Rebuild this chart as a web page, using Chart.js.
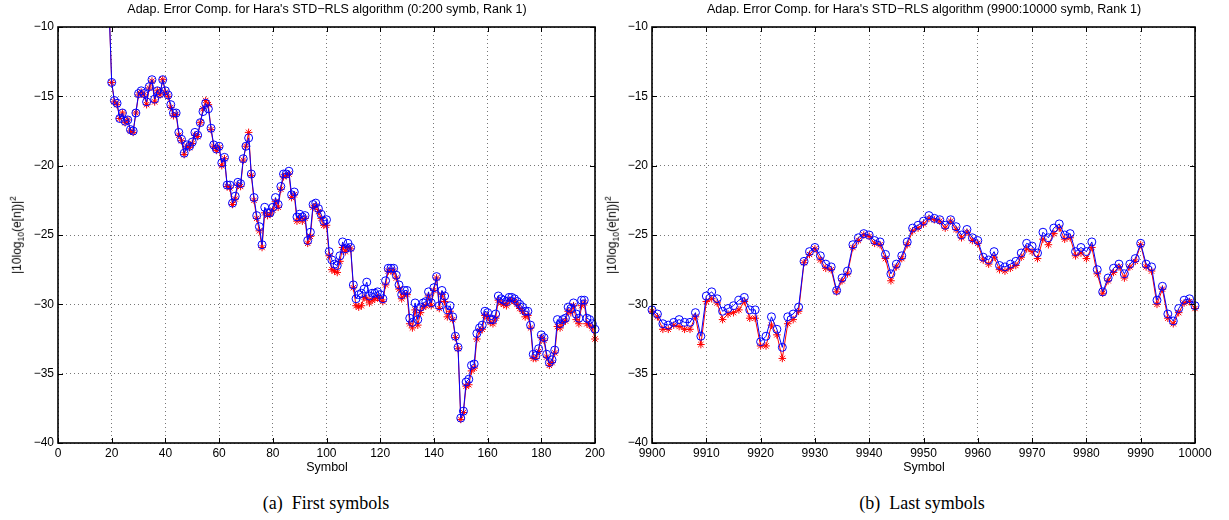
<!DOCTYPE html>
<html>
<head>
<meta charset="utf-8">
<script src="https://cdn.jsdelivr.net/npm/chart.js@4.4.0/dist/chart.umd.min.js"></script>
<style>
  body { margin: 0; background: #fff; width: 1229px; height: 520px; position: relative; overflow: hidden;
         font-family: "Liberation Sans", Arial, sans-serif; color: #000; }
  canvas { position: absolute; top: 0; }
  .ttl, .xl { position: absolute; font-size: 12.5px; white-space: nowrap; transform: translateX(-50%); }
  .yl { position: absolute; font-size: 12px; white-space: nowrap; transform: translate(-50%, -50%) rotate(-90deg); }
  .yl sub, .yl sup { font-size: 8.5px; }
  .cap { position: absolute; font-family: "Liberation Serif", "Times New Roman", serif; font-size: 18px;
         white-space: pre; transform: translateX(-50%); }
</style>
</head>
<body>
<canvas id="left" width="614" height="480" style="left:0"></canvas>
<canvas id="right" width="615" height="480" style="left:614px"></canvas>

<div class="ttl" style="left:327px; top:2px">Adap. Error Comp. for Hara's STD−RLS algorithm (0:200 symb, Rank 1)</div>
<div class="ttl" style="left:924px; top:2px">Adap. Error Comp. for Hara's STD−RLS algorithm (9900:10000 symb, Rank 1)</div>
<div class="yl" style="left:17px; top:235px">|10log<sub>10</sub>(e[n])|<sup>2</sup></div>
<div class="yl" style="left:612px; top:235px">|10log<sub>10</sub>(e[n])|<sup>2</sup></div>
<div class="xl" style="left:327px; top:460px">Symbol</div>
<div class="xl" style="left:924px; top:460px">Symbol</div>
<div class="cap" style="left:326px; top:493px">(a)  First symbols</div>
<div class="cap" style="left:922px; top:493px">(b)  Last symbols</div>

<script>
// first symbols (0:200), values start at symbol 19
const firstStart = 19;
const firstBlue = [
  -8.5,
  -14.0,-15.3,-15.5,-16.6,-16.2,-16.8,-16.7,-17.4,-17.5,-16.2,
  -14.8,-14.6,-14.8,-15.4,-14.3,-13.8,-15.2,-14.6,-14.8,-13.8,
  -14.6,-14.9,-15.6,-16.2,-16.2,-17.6,-18.1,-19.1,-18.5,-18.6,
  -18.3,-17.6,-17.8,-16.9,-16.1,-15.5,-15.9,-17.3,-18.5,-18.8,
  -18.6,-19.8,-19.4,-21.4,-21.4,-22.7,-22.2,-21.2,-21.3,-19.5,
  -18.6,-18.0,-20.6,-22.3,-23.6,-24.4,-25.7,-23.0,-23.4,-23.4,
  -23.0,-22.3,-22.8,-21.5,-20.6,-20.6,-20.4,-22.1,-21.9,-23.7,
  -23.5,-23.7,-23.6,-25.4,-24.8,-22.8,-22.7,-23.1,-23.5,-24.0,
  -23.9,-26.2,-26.8,-27.1,-27.2,-26.5,-25.5,-26.0,-25.6,-25.9,
  -28.6,-29.6,-29.3,-29.2,-28.9,-28.4,-29.4,-29.2,-29.2,-29.1,
  -29.3,-29.6,-28.3,-27.4,-27.4,-27.4,-27.9,-28.6,-29.3,-29.0,
  -29.0,-31.0,-31.3,-29.9,-31.1,-30.2,-29.9,-29.8,-29.1,-29.9,
  -28.8,-28.0,-30.1,-29.0,-29.4,-30.4,-30.1,-30.9,-32.3,-33.1,
  -38.2,-37.7,-35.6,-35.4,-34.4,-34.3,-32.1,-31.7,-31.5,-30.5,
  -30.6,-31.1,-31.1,-30.7,-29.4,-29.6,-29.7,-29.8,-29.5,-29.5,
  -29.6,-29.8,-30.0,-30.2,-30.5,-30.5,-31.5,-33.6,-33.7,-33.2,
  -32.2,-32.4,-33.6,-34.2,-34.0,-33.3,-31.1,-31.4,-31.1,-31.0,
  -30.2,-30.3,-29.9,-30.7,-31.0,-29.7,-29.7,-31.0,-31.1,-31.4,
  -31.8
];
const firstRed = [
  -8.5,
  -14.0,-15.4,-15.6,-16.6,-16.2,-16.9,-16.7,-17.5,-17.6,-16.2,
  -14.9,-14.7,-14.9,-15.6,-14.4,-13.9,-15.4,-14.6,-14.9,-13.8,
  -14.7,-15.0,-15.8,-16.4,-16.3,-17.8,-18.2,-19.2,-18.6,-18.7,
  -18.4,-17.8,-17.9,-16.9,-15.9,-15.3,-15.6,-17.4,-18.6,-18.9,
  -18.7,-20.0,-19.5,-21.5,-21.6,-22.8,-22.4,-21.4,-21.5,-19.6,
  -18.6,-17.6,-20.7,-22.5,-23.8,-24.7,-25.9,-23.4,-23.6,-23.5,
  -23.2,-22.6,-23.0,-21.7,-20.8,-20.7,-20.6,-22.3,-22.1,-24.0,
  -23.8,-24.0,-23.8,-25.6,-25.1,-23.0,-22.9,-23.3,-23.8,-24.3,
  -24.3,-26.5,-27.5,-27.6,-27.7,-26.9,-25.9,-26.2,-25.9,-26.0,
  -28.8,-30.1,-30.2,-30.1,-29.5,-29.6,-29.9,-29.7,-29.6,-29.5,
  -29.6,-29.8,-28.6,-27.6,-27.6,-27.6,-28.1,-28.9,-29.6,-29.3,
  -29.3,-31.4,-31.7,-30.4,-31.5,-30.6,-30.2,-30.1,-29.4,-30.1,
  -29.0,-28.1,-30.3,-29.3,-29.8,-30.9,-30.5,-31.1,-32.4,-33.2,
  -38.3,-37.8,-35.9,-35.8,-34.8,-34.6,-32.5,-31.9,-31.8,-30.8,
  -30.9,-31.3,-31.4,-31.0,-29.7,-29.9,-30.0,-30.1,-29.7,-29.7,
  -29.8,-30.0,-30.3,-30.5,-30.9,-30.8,-31.7,-33.9,-33.9,-33.4,
  -32.4,-32.6,-33.8,-34.4,-34.2,-33.5,-31.6,-31.7,-31.3,-31.2,
  -30.5,-30.6,-30.1,-31.1,-31.4,-30.1,-29.9,-31.4,-31.5,-31.7,
  -32.5
];

// last symbols (9900:10000)
const lastStart = 9900;
const lastBlue = [
  -30.4,-30.7,-31.4,-31.5,-31.3,-31.1,-31.3,-31.3,-30.6,-32.3,
  -29.4,-29.1,-29.6,-30.5,-30.3,-30.1,-29.7,-29.5,-30.4,-30.4,
  -32.7,-32.3,-30.9,-31.8,-33.1,-30.9,-30.7,-30.2,-26.9,-26.2,
  -25.9,-26.5,-27.1,-27.3,-29.0,-28.1,-27.6,-25.7,-25.2,-24.9,
  -25.0,-25.4,-25.5,-26.4,-27.8,-27.1,-26.5,-25.5,-24.5,-24.3,
  -24.0,-23.6,-23.8,-23.9,-24.3,-23.9,-24.4,-25.0,-24.6,-25.2,
  -25.4,-26.6,-26.8,-26.2,-27.2,-27.3,-27.1,-26.9,-26.3,-25.6,
  -25.8,-26.3,-24.8,-25.2,-24.5,-24.2,-25.0,-24.9,-26.2,-25.9,
  -26.2,-25.5,-27.5,-29.1,-28.1,-27.4,-27.1,-27.8,-27.1,-26.7,
  -25.6,-27.1,-27.3,-29.7,-28.7,-30.7,-31.2,-30.3,-29.7,-29.6,
  -30.1
];
const lastRed = [
  -30.5,-30.9,-31.8,-31.8,-31.5,-31.6,-31.8,-31.8,-30.9,-32.9,
  -29.8,-29.6,-29.9,-31.1,-30.7,-30.6,-30.4,-29.8,-31.0,-31.0,
  -33.0,-33.0,-31.5,-32.2,-33.9,-31.4,-31.1,-30.5,-27.0,-26.4,
  -26.0,-26.8,-27.4,-27.5,-29.1,-28.3,-27.8,-25.9,-25.4,-25.0,
  -25.1,-25.6,-25.7,-26.7,-28.3,-27.3,-26.7,-25.7,-24.7,-24.5,
  -24.2,-23.8,-23.9,-24.0,-24.5,-24.0,-24.6,-25.2,-24.8,-25.4,
  -25.6,-26.8,-27.1,-26.6,-27.5,-27.6,-27.4,-27.2,-26.6,-26.0,
  -26.2,-26.7,-25.3,-25.7,-24.9,-24.5,-25.3,-25.2,-26.5,-26.3,
  -26.7,-25.9,-27.8,-29.2,-28.3,-27.7,-27.3,-28.1,-27.3,-26.9,
  -25.7,-27.3,-27.6,-30.0,-28.9,-31.0,-31.4,-30.6,-29.9,-29.8,
  -30.3
];

const yTicks = [-40, -35, -30, -25, -20, -15, -10];

function toPoints(start, values) {
  return values.map((v, i) => ({x: start + i, y: v}));
}

// MATLAB-like box with inward tick marks
const matlabBox = {
  id: 'matlabBox',
  afterDraw(chart) {
    const {ctx, chartArea: a, scales} = chart;
    const L = Math.round(a.left), R = Math.round(a.right);
    const T = Math.round(a.top), B = Math.round(a.bottom);
    ctx.save();
    ctx.strokeStyle = '#000';
    ctx.lineWidth = 1;
    ctx.beginPath();
    scales.x.ticks.forEach(t => {
      const p = Math.round(scales.x.getPixelForValue(t.value)) + 0.5;
      ctx.moveTo(p, B); ctx.lineTo(p, B - 5);
      ctx.moveTo(p, T); ctx.lineTo(p, T + 5);
    });
    scales.y.ticks.forEach(t => {
      const p = Math.round(scales.y.getPixelForValue(t.value)) + 0.5;
      ctx.moveTo(L, p); ctx.lineTo(L + 5, p);
      ctx.moveTo(R, p); ctx.lineTo(R - 5, p);
    });
    ctx.stroke();
    ctx.lineWidth = 1.6;
    ctx.strokeRect(L, T, R - L, B - T);
    ctx.restore();
  }
};

function makeChart(id, start, blue, red, xmin, xmax, xstep, yWidth, padRight) {
  const font = {family: '"Liberation Sans", Arial, sans-serif', size: 12};
  const clip = {left: 6, right: 6, top: 0, bottom: 0};
  return new Chart(document.getElementById(id), {
    type: 'line',
    data: {
      datasets: [
        {
          data: toPoints(start, blue),
          borderColor: '#0000ff',
          borderWidth: 1,
          pointStyle: 'circle',
          pointRadius: 4,
          pointBorderColor: '#0000ff',
          pointBackgroundColor: 'rgba(0,0,0,0)',
          pointBorderWidth: 1,
          tension: 0,
          clip: clip
        },
        {
          data: toPoints(start, red),
          borderColor: '#ff0000',
          borderWidth: 1,
          pointStyle: 'star',
          pointRadius: 3.8,
          pointBorderColor: '#ff0000',
          pointBorderWidth: 1,
          tension: 0,
          clip: clip
        }
      ]
    },
    options: {
      responsive: false,
      animation: false,
      layout: {padding: {top: 27, right: padRight, bottom: 0, left: 0}},
      plugins: {legend: {display: false}, tooltip: {enabled: false}},
      scales: {
        x: {
          type: 'linear',
          min: xmin, max: xmax,
          afterFit(s) { s.height = 37; },
          grid: {color: '#777', drawTicks: false},
          border: {display: false, dash: [1, 3]},
          ticks: {
            stepSize: xstep, autoSkip: false, maxRotation: 0, padding: 3,
            color: '#000', font: font,
            callback: v => String(v)
          }
        },
        y: {
          min: -40, max: -10,
          afterFit(s) { s.width = yWidth; },
          afterBuildTicks(s) { s.ticks = yTicks.map(v => ({value: v})); },
          grid: {color: '#777', drawTicks: false},
          border: {display: false, dash: [1, 3]},
          ticks: {
            padding: 4, color: '#000', font: font,
            callback: v => (v < 0 ? '\u2212' + Math.abs(v) : String(v))
          }
        }
      }
    },
    plugins: [matlabBox]
  });
}

makeChart('left', firstStart, firstBlue, firstRed, 0, 200, 20, 58, 19);
makeChart('right', lastStart, lastBlue, lastRed, 9900, 10000, 10, 38, 34);
</script>
</body>
</html>
